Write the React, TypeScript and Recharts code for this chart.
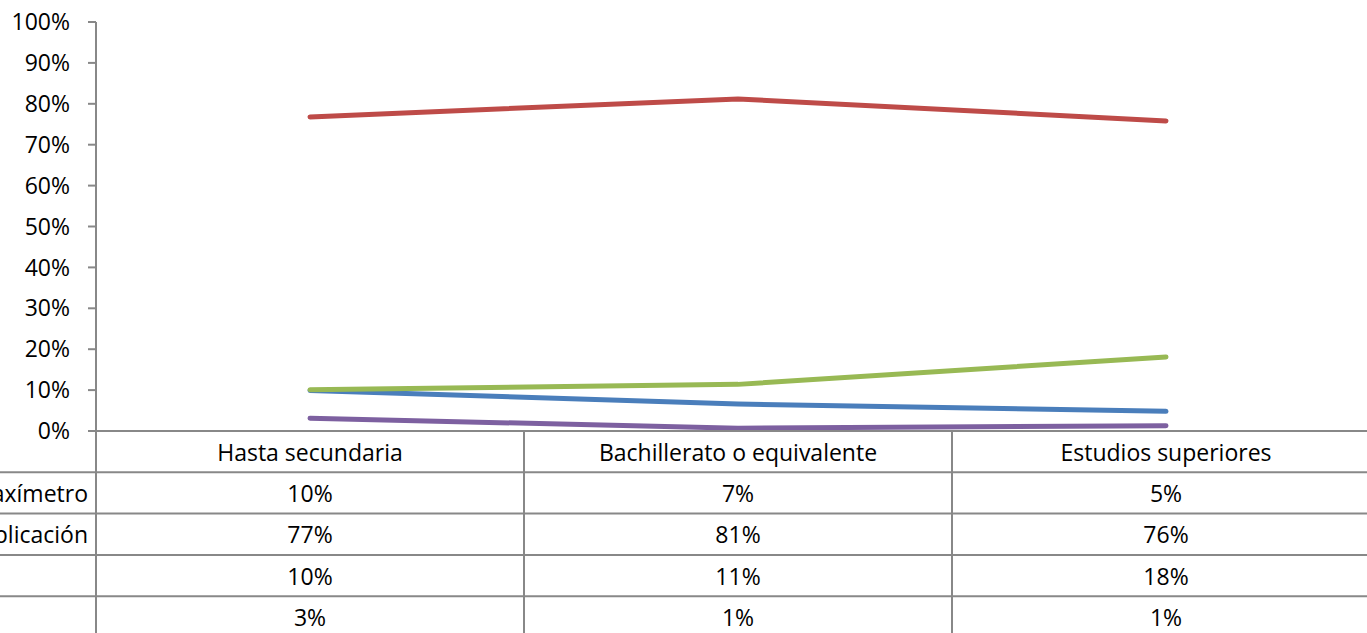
import { LineChart, Line, XAxis, YAxis } from "recharts";

const categories = ["Hasta secundaria", "Bachillerato o equivalente", "Estudios superiores"];

const seriesNames = ["Taxi con taxímetro", "Taxi por aplicación", "", ""];
const taximetro = [9.9, 6.6, 4.8];
const aplicacion = [76.8, 81.2, 75.8];
const tercera = [10.1, 11.4, 18.1];
const cuarta = [3.1, 0.7, 1.3];

const yTicks = [0, 10, 20, 30, 40, 50, 60, 70, 80, 90, 100];

const seriesValues = [taximetro, aplicacion, tercera, cuarta];
const seriesKeys = ["s0", "s1", "s2", "s3"];
const seriesColors = ["#4A7EBB", "#BE4B48", "#98B954", "#7D60A0"];

const data = categories.map((name, i) => {
  const row: Record<string, string | number> = { name };
  seriesValues.forEach((vals, s) => {
    row[seriesKeys[s]] = vals[i];
  });
  return row;
});

const FONT = "'Open Sans', sans-serif";
const FS = 23;
const GRID = "#888888";
const CHART_W = 1400;
const CHART_H = 640;
const PLOT_LEFT = 96;
const PLOT_RIGHT = 1380;
const BAND = (PLOT_RIGHT - PLOT_LEFT) / categories.length;
const ROW_H = 41.3;

// x-axis ticks draw the data table column for each category
const TableTick = (props: any) => {
  const { x, y, payload } = props;
  const idx = payload?.index ?? props.index ?? 0;
  const cx = payload?.coordinate ?? x;
  const left = cx - BAND / 2;
  const right = cx + BAND / 2;
  const bottom = y + ROW_H * 5 + 20;
  const rows = seriesValues.length;

  return (
    <g>
      <line x1={left} y1={y} x2={left} y2={bottom} stroke={GRID} strokeWidth={2} />
      {idx === categories.length - 1 && (
        <line x1={right} y1={y} x2={right} y2={bottom} stroke={GRID} strokeWidth={2} />
      )}
      {Array.from({ length: rows }).map((_, r) => (
        <line
          key={"h" + r}
          x1={idx === 0 ? 0 : left}
          y1={y + ROW_H * (r + 1)}
          x2={right}
          y2={y + ROW_H * (r + 1)}
          stroke={GRID}
          strokeWidth={2}
        />
      ))}
      <text
        x={cx}
        y={y + ROW_H / 2}
        textAnchor="middle"
        dominantBaseline="central"
        fontSize={FS}
        fontFamily={FONT}
        fill="#000"
      >
        {payload.value}
      </text>
      {seriesValues.map((vals, r) => (
        <text
          key={"v" + r}
          x={cx}
          y={y + ROW_H * (r + 1.5)}
          textAnchor="middle"
          dominantBaseline="central"
          fontSize={FS}
          fontFamily={FONT}
          fill="#000"
        >
          {Math.round(vals[idx])}%
        </text>
      ))}
      {idx === 0 &&
        seriesNames.map((n, r) => (
          <text
            key={"n" + r}
            x={left - 8}
            y={y + ROW_H * (r + 1.5)}
            textAnchor="end"
            dominantBaseline="central"
            fontSize={FS}
            fontFamily={FONT}
            fill="#000"
          >
            {n}
          </text>
        ))}
    </g>
  );
};

export default function App() {
  return (
    <div
      style={{
        position: "absolute",
        left: 0,
        top: 0,
        width: 1367,
        height: 633,
        overflow: "hidden",
        background: "#fff",
        fontFamily: FONT,
      }}
    >
      <LineChart
        width={CHART_W}
        height={CHART_H}
        data={data}
        margin={{ top: 22, right: CHART_W - PLOT_RIGHT, bottom: 0, left: 0 }}
      >
        <XAxis
          dataKey="name"
          interval={0}
          height={CHART_H - 22 - 409}
          padding={{ left: BAND / 2, right: BAND / 2 }}
          axisLine={{ stroke: GRID, strokeWidth: 2 }}
          tickLine={false}
          tickSize={0}
          tickMargin={0}
          tick={<TableTick />}
        />
        <YAxis
          width={PLOT_LEFT}
          domain={[0, 100]}
          ticks={yTicks}
          interval={0}
          tickFormatter={(v) => `${v}%`}
          axisLine={{ stroke: GRID, strokeWidth: 2 }}
          tickLine={{ stroke: GRID, strokeWidth: 2 }}
          tickSize={8}
          tickMargin={18}
          tick={{ fontSize: FS, fill: "#000", fontFamily: FONT }}
        />
        {seriesKeys.map((k, i) => (
          <Line
            key={k}
            dataKey={k}
            type="linear"
            stroke={seriesColors[i]}
            strokeWidth={5}
            strokeLinecap="round"
            dot={false}
            activeDot={false}
            isAnimationActive={false}
          />
        ))}
      </LineChart>
    </div>
  );
}
